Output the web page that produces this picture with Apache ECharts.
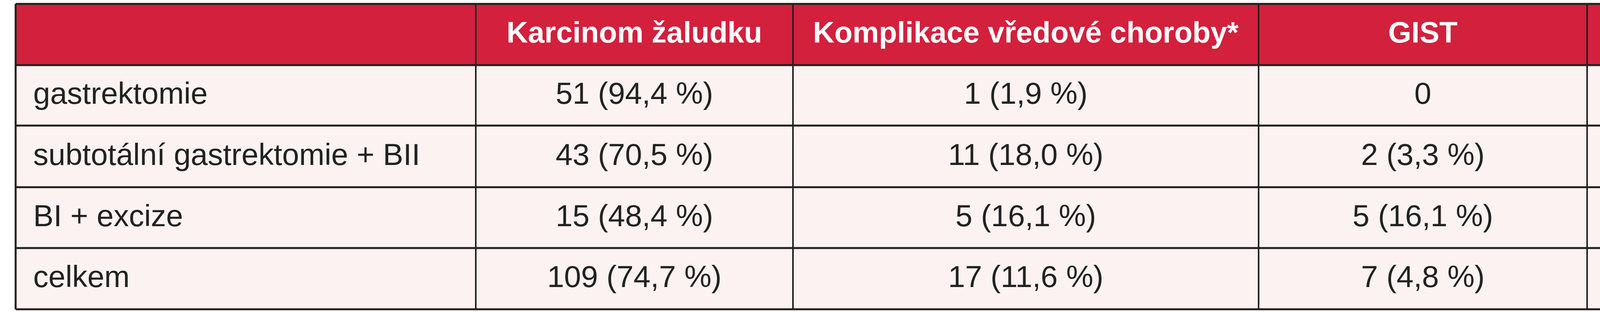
<!DOCTYPE html><html><head><meta charset="utf-8">
<script src="https://cdn.jsdelivr.net/npm/echarts@6/dist/echarts.min.js"></script>
<style>html,body{margin:0;padding:0;background:#fff}#c{width:4958px;height:800px}</style></head><body><div id="c"></div>
<script>
const headers = ["", "Karcinom žaludku", "Komplikace vředové choroby*", "GIST", "Ostatní"];
const rowLabels = ["gastrektomie", "subtotální gastrektomie + BII", "BI + excize", "celkem"];
const colKarcinom = ["51 (94,4 %)", "43 (70,5 %)", "15 (48,4 %)", "109 (74,7 %)"];
const colKomplikace = ["1 (1,9 %)", "11 (18,0 %)", "5 (16,1 %)", "17 (11,6 %)"];
const colGist = ["0", "2 (3,3 %)", "5 (16,1 %)", "7 (4,8 %)"];
const colOstatni = ["2 (3,7 %)", "5 (8,2 %)", "6 (19,3 %)", "13 (8,9 %)"];

const colX = [40, 1218, 2030, 3222, 4063, 4917];
const rowY = [10, 167, 322, 480, 636, 793];
const font = '"Liberation Sans Narrow", "Liberation Sans", sans-serif';
const g = [];
const cols = [rowLabels, colKarcinom, colKomplikace, colGist, colOstatni];
// backgrounds
g.push({type:'rect', shape:{x:colX[0], y:rowY[0], width:colX[5]-colX[0], height:rowY[1]-rowY[0]}, style:{fill:'#D2203D'}});
g.push({type:'rect', shape:{x:colX[0], y:rowY[1], width:colX[5]-colX[0], height:rowY[5]-rowY[1]}, style:{fill:'#FBF2F1'}});
// header text
headers.forEach((h,i)=>{ if(!h) return;
  g.push({type:'text', style:{text:h, x:(colX[i]+colX[i+1])/2, y:(rowY[0]+rowY[1])/2, align:'center', verticalAlign:'middle', fill:'#fff', font:'bold 76px '+font}});
});
cols.forEach((col,i)=>col.forEach((t,r)=>{
  g.push({type:'text', style:{text:t, x: i===0 ? colX[0]+45 : (colX[i]+colX[i+1])/2, y:(rowY[r+1]+rowY[r+2])/2, align: i===0?'left':'center', verticalAlign:'middle', fill:'#222', font:'78px '+font}});
}));
// grid lines
rowY.forEach(y=>g.push({type:'line', shape:{x1:colX[0], y1:y, x2:colX[5], y2:y}, style:{stroke:'#231F20', lineWidth:5}}));
colX.forEach((x,i)=>g.push({type:'line', shape:{x1:x, y1:rowY[0], x2:x, y2:rowY[5]}, style:{stroke:'#231F20', lineWidth:(i===0||i===5)?5:4}}));
const chart = echarts.init(document.getElementById('c'));
chart.setOption({animation:false, graphic:g});
</script></body></html>
